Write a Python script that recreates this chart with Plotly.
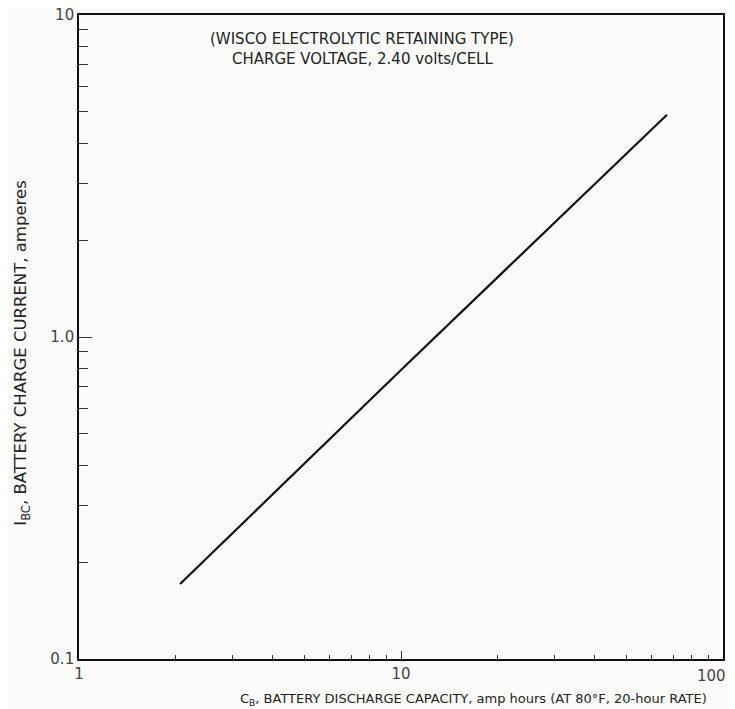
import plotly.graph_objects as go

# Data (log-log straight line)
capacity_ah = [2.06, 10.0, 67.0]
charge_current_a = [0.171, 0.79, 4.9]

x_tick_vals = [1, 10, 100]
x_tick_text = ["1", "10", "100"]
y_tick_vals = [0.1, 1.0, 10]
y_tick_text = ["0.1", "1.0", "10"]
x_minor_vals = [2, 3, 4, 5, 6, 7, 8, 9, 20, 30, 40, 50, 60, 70, 80, 90]
y_minor_vals = [0.2, 0.3, 0.4, 0.5, 0.6, 0.7, 0.8, 0.9, 2, 3, 4, 5, 6, 7, 8, 9]

x_title = "C<sub>B</sub>, BATTERY DISCHARGE CAPACITY, amp hours (AT 80°F, 20-hour RATE)"
y_title = "I<sub>BC</sub>, BATTERY CHARGE CURRENT, amperes"
note_line1 = "(WISCO ELECTROLYTIC RETAINING TYPE)"
note_line2 = "CHARGE VOLTAGE, 2.40 volts/CELL"

font_family = "'DejaVu Sans', Lato, sans-serif"
ink = "#222222"
tick_color = "#444444"

fig = go.Figure()
fig.add_trace(go.Scatter(
    x=capacity_ah, y=charge_current_a, mode="lines",
    line=dict(color="#111111", width=2.2), showlegend=False,
))

# the last x label sits at the right edge; draw it right-aligned so it stays visible
shown_x_text = x_tick_text[:-1] + [""]

fig.update_layout(
    width=735, height=709,
    margin=dict(l=71, r=20, t=7, b=58),
    paper_bgcolor="#fbfbfa", plot_bgcolor="#fbfbfa",
    font=dict(family=font_family, color=ink, size=12),
    xaxis=dict(
        type="log", range=[0, 2], showgrid=False, zeroline=False,
        automargin=False, ticklabeloverflow="allow",
        showline=True, linecolor="#111111", linewidth=1.6, mirror=True,
        tickvals=x_tick_vals, ticktext=shown_x_text,
        ticks="inside", ticklen=8, tickcolor="#333333", tickwidth=1,
        tickfont=dict(size=15, color=tick_color),
        minor=dict(tickvals=x_minor_vals, ticks="inside", ticklen=4,
                   tickcolor="#333333", tickwidth=1, showgrid=False),
    ),
    yaxis=dict(
        type="log", range=[-1, 1], showgrid=False, zeroline=False,
        automargin=False, ticklabeloverflow="allow",
        showline=True, linecolor="#111111", linewidth=1.6, mirror=True,
        tickvals=y_tick_vals, ticktext=y_tick_text,
        ticks="inside", ticklen=13, tickcolor="#333333", tickwidth=1,
        tickfont=dict(size=15, color=tick_color),
        minor=dict(tickvals=y_minor_vals, ticks="inside", ticklen=9,
                   tickcolor="#333333", tickwidth=1, showgrid=False),
    ),
    annotations=[
        dict(text=note_line1, x=0.44, y=0.962, xref="paper", yref="paper",
             xanchor="center", yanchor="middle", showarrow=False,
             font=dict(size=15, color=ink)),
        dict(text=note_line2, x=0.44, y=0.932, xref="paper", yref="paper",
             xanchor="center", yanchor="middle", showarrow=False,
             font=dict(size=15, color=ink)),
        dict(text=x_tick_text[-1], x=1, y=0, xref="paper", yref="paper",
             xanchor="right", yanchor="middle", xshift=5, yshift=-17,
             showarrow=False, font=dict(size=15, color=tick_color)),
        dict(text=x_title, x=0.613, y=0, xref="paper", yref="paper",
             xanchor="center", yanchor="middle", yshift=-40, showarrow=False,
             font=dict(size=13, color=ink)),
        dict(text=y_title, x=0, y=0.474, xref="paper", yref="paper",
             xanchor="center", yanchor="middle", xshift=-57, textangle=-90,
             showarrow=False, font=dict(size=16.5, color=ink)),
    ],
)

fig.write_html("out.html")
